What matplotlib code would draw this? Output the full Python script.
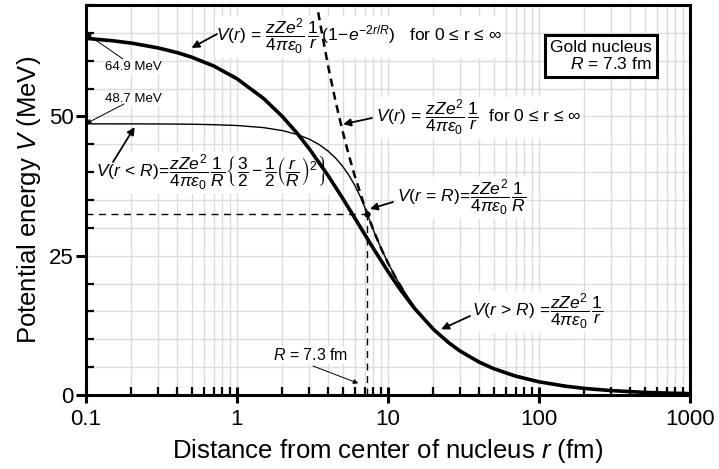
import numpy as np
import matplotlib
matplotlib.use("Agg")
import matplotlib.pyplot as plt
from matplotlib.ticker import LogLocator, MultipleLocator, NullFormatter, FixedLocator, FixedFormatter

plt.rcParams['font.family'] = ['Liberation Sans', 'DejaVu Sans']
plt.rcParams['mathtext.fontset'] = 'custom'
plt.rcParams['mathtext.rm'] = 'Liberation Sans'
plt.rcParams['mathtext.it'] = 'Liberation Sans:italic'
plt.rcParams['mathtext.bf'] = 'Liberation Sans:bold'
plt.rcParams['mathtext.fallback'] = 'stixsans'

# --- data (r in fm, V in MeV) ---
# exponential charge distribution, V(r) = k/r (1 - e^{-2r/R})
r_exp = [0.1, 0.15, 0.2, 0.3, 0.4, 0.5, 0.7, 1, 1.5, 2, 2.5, 3, 4, 5, 6, 7.3, 8, 10,
         12, 15, 20, 25, 30, 40, 50, 70, 100, 150, 200, 300, 500, 700, 1000]
v_exp = [64.02, 63.58, 63.16, 62.30, 61.47, 60.65, 59.06, 56.77, 53.22, 49.97, 46.99, 44.25,
         39.43, 35.34, 31.85, 28.06, 26.30, 22.16, 19.00, 15.53, 11.79, 9.47, 7.89, 5.92,
         4.74, 3.38, 2.37, 1.58, 1.18, 0.79, 0.47, 0.34, 0.24]

# point charge, V(r) = k/r (dashed)
r_point = [3.3, 3.5, 4, 4.5, 5, 5.5, 6, 7, 8, 9, 10, 11, 12.5]
v_point = [71.78, 67.68, 59.22, 52.64, 47.38, 43.07, 39.48, 33.84, 29.61, 26.32, 23.69, 21.54, 18.95]

# uniformly charged sphere (thin)
r_unif = [0.1, 0.2, 0.3, 0.5, 0.7, 1, 1.5, 2, 2.5, 3, 3.5, 4, 4.5, 5, 5.5, 6, 6.5, 7, 7.3,
          8, 9, 10, 12, 15, 20, 30, 50, 100, 200, 500, 1000]
v_unif = [48.67, 48.66, 48.65, 48.60, 48.52, 48.37, 47.99, 47.46, 46.77, 45.94, 44.95, 43.80,
          42.51, 41.06, 39.47, 37.71, 35.81, 33.76, 32.45, 29.61, 26.32, 23.69, 19.74, 15.79,
          11.84, 7.90, 4.74, 2.37, 1.18, 0.47, 0.24]

R_nuc = 7.3
V_R = 32.45
V0_exp = 64.9
V0_unif = 48.7

W, H = 719, 469
fig = plt.figure(figsize=(W / 100, H / 100), dpi=100)
ax = fig.add_axes([86 / W, 1 - 395 / H, 604 / W, 390 / H])


def px(x, y):
    return (x / W, 1 - y / H)


ax.set_xscale('log')
ax.set_xlim(0.1, 1000)
ax.set_ylim(0, 70)

# grid
ax.xaxis.set_minor_locator(LogLocator(base=10, subs=np.arange(2, 10)))
ax.xaxis.set_minor_formatter(NullFormatter())
ax.yaxis.set_major_locator(FixedLocator([0, 25, 50]))
ax.yaxis.set_minor_locator(MultipleLocator(5))
ax.grid(True, which='both', color='#dcdcdc', lw=1.0, zorder=0)
ax.set_axisbelow(True)

for s in ax.spines.values():
    s.set_linewidth(2.2)

ax.tick_params(axis='x', which='major', direction='inout', length=12, width=2.2, labelsize=16, pad=4)
ax.tick_params(axis='x', which='minor', direction='in', length=6, width=1.6)
ax.tick_params(axis='y', which='major', direction='out', length=7, width=2.2, labelsize=16, pad=2)
ax.tick_params(axis='y', which='minor', direction='in', length=6, width=1.6)
ax.xaxis.set_major_locator(FixedLocator([0.1, 1, 10, 100, 1000]))
ax.xaxis.set_major_formatter(FixedFormatter(['0.1', '1', '10', '100', '1000']))

ax.set_xlabel('Distance from center of nucleus $r$ (fm)', fontsize=18.5, labelpad=5)
ax.set_ylabel('Potential energy $V$ (MeV)', fontsize=18.5, labelpad=4)

# curves
ax.plot(r_exp, v_exp, color='k', lw=2.6, zorder=4, solid_capstyle='butt')
ax.plot(r_unif, v_unif, color='k', lw=1.0, zorder=4)
ax.plot(r_point, v_point, color='k', lw=1.8, ls=(0, (3.2, 2.2)), zorder=4)
ax.plot([0.1, R_nuc], [V_R, V_R], color='k', lw=1.0, ls=(0, (5, 4)), zorder=3)
ax.plot([R_nuc, R_nuc], [0, V_R], color='k', lw=1.0, ls=(0, (5, 4)), zorder=3)
ax.plot([R_nuc], [V_R], 'o', color='k', ms=3.5, zorder=5)

wbox = dict(facecolor='white', edgecolor='none', pad=0.5)
tkw = dict(transform=fig.transFigure, va='center', ha='left', zorder=2, bbox=wbox)

frac = r'\dfrac{zZe^2}{4\pi\varepsilon_0}'
ax.text(*px(216, 37), r'$V(r)\,=\,' + frac + r'\,\dfrac{1}{r}\,(1\!-\!e^{-2r/R})$   for 0 ≤ r ≤ ∞',
        fontsize=12.5, **tkw)
ax.text(*px(376, 118), r'$V(r)\,=\,' + frac + r'\,\dfrac{1}{r}$  for 0 ≤ r ≤ ∞', fontsize=12.5, **tkw)
ax.text(*px(96, 173), r'$V(r\,<\,R)\!=\!' + frac + r'\,\dfrac{1}{R}\left\{\dfrac{3}{2}-\dfrac{1}{2}\left(\dfrac{r}{R}\right)^2\right\}$',
        fontsize=12.5, **tkw)
ax.text(*px(397, 198), r'$V(r\,=\,R)\!=\!' + frac + r'\,\dfrac{1}{R}$', fontsize=12.5, **tkw)
ax.text(*px(472, 312), r'$V(r\,>\,R)\,=\!' + frac + r'\,\dfrac{1}{r}$', fontsize=12.5, **tkw)
ax.text(*px(273, 355), r'$R$ = 7.3 fm', fontsize=11.5, **tkw)
ax.text(*px(105, 67), '64.9 MeV', fontsize=9.5, **tkw)
ax.text(*px(105, 99), '48.7 MeV', fontsize=9.5, **tkw)

ax.text(*px(652, 56), 'Gold nucleus\n$R$ = 7.3 fm', fontsize=12.5, transform=fig.transFigure,
        ha='right', va='center', linespacing=1.05, zorder=6,
        bbox=dict(facecolor='white', edgecolor='k', lw=2.2, boxstyle='square,pad=0.3'))

thin = dict(arrowstyle='-|>', lw=0.7, color='k', mutation_scale=7, shrinkA=0, shrinkB=0)
heavy = dict(arrowstyle='-|>', lw=1.3, color='k', mutation_scale=11, shrinkA=0, shrinkB=0)


def arrow(xy, start, props):
    ax.annotate('', xy=xy, xycoords='data', xytext=px(*start), textcoords='figure fraction',
                arrowprops=props, zorder=6)


arrow((0.1, V0_exp), (123, 59), thin)
arrow((0.1, V0_unif), (124, 104), thin)
arrow((0.5, 62.3), (217, 34), heavy)
arrow((5.05, 48.6), (372, 118), heavy)
arrow((0.21, 48.1), (113, 162), heavy)
arrow((7.6, 33.4), (393, 202), heavy)
arrow((22.5, 11.8), (470, 316), heavy)
arrow((6.35, 2.1), (313, 366), thin)

fig.savefig('out.png', dpi=100)
